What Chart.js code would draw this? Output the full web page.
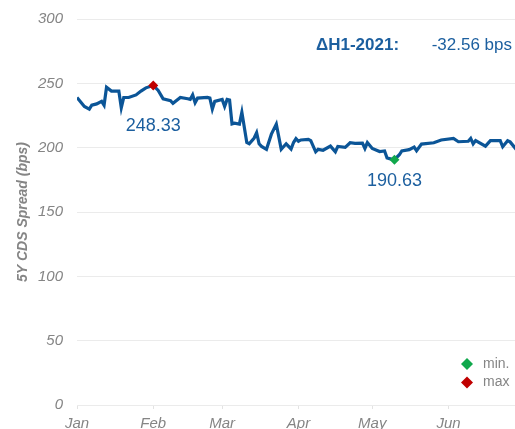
<!DOCTYPE html>
<html>
<head>
<meta charset="utf-8">
<script src="https://cdn.jsdelivr.net/npm/chart.js@4.4.1/dist/chart.umd.min.js"></script>
<style>
    body { margin: 0; background: #fff; }
    #wrap { width: 515px; height: 429px; overflow: hidden; }
</style>
</head>
<body>
<div id="wrap"><canvas id="cdsChart" width="515" height="429"></canvas></div>
<script>
// 5Y CDS spread, H1 2021 (bps)
var dates = [
    '2021-01-01', '2021-01-04', '2021-01-06', '2021-01-07', '2021-01-09', '2021-01-11', '2021-01-12', '2021-01-13',
    '2021-01-15', '2021-01-18', '2021-01-19', '2021-01-20', '2021-01-22', '2021-01-25', '2021-01-27', '2021-01-29',
    '2021-02-01', '2021-02-03', '2021-02-05', '2021-02-08', '2021-02-09', '2021-02-12', '2021-02-15', '2021-02-16',
    '2021-02-17', '2021-02-18', '2021-02-19', '2021-02-23', '2021-02-24', '2021-02-25', '2021-02-26',
    '2021-03-01', '2021-03-02', '2021-03-03', '2021-03-04', '2021-03-05', '2021-03-06', '2021-03-08', '2021-03-09',
    '2021-03-11', '2021-03-12', '2021-03-14', '2021-03-15', '2021-03-16', '2021-03-17', '2021-03-19', '2021-03-21',
    '2021-03-23', '2021-03-25', '2021-03-27', '2021-03-29', '2021-03-30', '2021-03-31',
    '2021-04-01', '2021-04-02', '2021-04-05', '2021-04-06', '2021-04-08', '2021-04-09', '2021-04-11', '2021-04-14',
    '2021-04-16', '2021-04-17', '2021-04-20', '2021-04-22', '2021-04-24', '2021-04-27', '2021-04-28', '2021-04-29',
    '2021-05-01', '2021-05-04', '2021-05-06', '2021-05-07', '2021-05-08', '2021-05-09', '2021-05-10', '2021-05-12',
    '2021-05-13', '2021-05-16', '2021-05-18', '2021-05-19', '2021-05-21', '2021-05-26', '2021-05-29',
    '2021-06-03', '2021-06-05', '2021-06-09', '2021-06-10', '2021-06-11', '2021-06-12', '2021-06-16', '2021-06-18',
    '2021-06-22', '2021-06-23', '2021-06-25', '2021-06-26', '2021-06-29'
];
var spreads = [
    239, 232, 230, 233, 234, 236, 233, 247,
    244, 244, 231, 239, 239, 241, 244, 246.5,
    248.33, 244.5, 238, 236.5, 234.5, 239, 238, 237.5,
    241, 235, 238.5, 239, 238.5, 230, 236,
    237.5, 232, 237.5, 237, 218.5, 219, 218.3, 227.5,
    204, 203, 207.5, 211.6, 203, 201, 198.7, 210.5,
    218.3, 198.7, 203, 199, 204, 207,
    205, 206, 206.5, 205.5, 196.8, 198.7, 198, 201.2,
    196.8, 201, 200.2, 203.8, 203.3, 203.5, 199.4, 204,
    199.4, 197, 197.5, 192, 191.5, 191, 190.63, 194.5,
    197.5, 198.5, 200.5, 197.6, 202.8, 203.8, 206,
    207.2, 204.6, 205, 207.2, 203, 205.5, 201.2, 205.4,
    205.4, 200.7, 205.4, 204.5, 197.5
];
var monthStarts = ['2021-01-01', '2021-02-01', '2021-03-01', '2021-04-01', '2021-05-01', '2021-06-01'];
var monthLabels = ['Jan', 'Feb', 'Mar', 'Apr', 'May', 'Jun'];
var xStart = '2021-01-01', xEnd = '2021-06-28';
var yMin = 0, yMax = 300, yStep = 50;
var deltaTitle = '\u0394H1-2021:';
var deltaText = '-32.56 bps';
var legendLabels = ['min.', 'max'];

var lineColor = '#0b5597';
var textBlue = '#1c5f9f';
var minColor = '#10a84c';
var maxColor = '#c00000';
var grey = '#858585';
var fontFamily = "'Liberation Sans', Arial, sans-serif";

function dayIndex(d) {
    return (Date.parse(d) - Date.parse(xStart)) / 86400000;
}

var points = dates.map(function (d, i) { return { x: dayIndex(d), y: spreads[i] }; });
var tickDays = monthStarts.map(dayIndex);

var iMax = spreads.indexOf(Math.max.apply(null, spreads));
var iMin = spreads.indexOf(Math.min.apply(null, spreads));

// labels, delta note and small legend drawn on top
var overlayPlugin = {
    id: 'overlay',
    afterDatasetsDraw: function (chart) {
        var ctx = chart.ctx;
        var pMax = chart.getDatasetMeta(0).data[0];
        var pMin = chart.getDatasetMeta(1).data[0];
        ctx.save();
        ctx.textAlign = 'center';
        ctx.textBaseline = 'middle';
        ctx.fillStyle = textBlue;
        ctx.font = '18px ' + fontFamily;
        ctx.fillText(spreads[iMax].toFixed(2), pMax.x, pMax.y + 41);
        ctx.fillText(spreads[iMin].toFixed(2), pMin.x, pMin.y + 21);

        // delta note
        ctx.textAlign = 'left';
        ctx.font = 'bold 17px ' + fontFamily;
        ctx.fillText(deltaTitle, 316, 45);
        ctx.textAlign = 'right';
        ctx.font = '17px ' + fontFamily;
        ctx.fillText(deltaText, 512, 45);

        // legend
        var colors = [minColor, maxColor];
        ctx.textAlign = 'left';
        ctx.font = '14px ' + fontFamily;
        for (var i = 0; i < legendLabels.length; i++) {
            var ly = 364 + i * 18.5;
            ctx.fillStyle = colors[i];
            ctx.beginPath();
            ctx.moveTo(467, ly - 6);
            ctx.lineTo(473, ly);
            ctx.lineTo(467, ly + 6);
            ctx.lineTo(461, ly);
            ctx.closePath();
            ctx.fill();
            ctx.fillStyle = grey;
            ctx.fillText(legendLabels[i], 483, ly);
        }
        ctx.restore();
    }
};

new Chart(document.getElementById('cdsChart'), {
    type: 'line',
    data: {
        datasets: [{
            label: 'max',
            data: [points[iMax]],
            showLine: false,
            pointStyle: 'rectRot',
            pointRadius: 5,
            pointBackgroundColor: maxColor,
            pointBorderColor: maxColor,
            pointBorderWidth: 0
        }, {
            label: 'min.',
            data: [points[iMin]],
            showLine: false,
            pointStyle: 'rectRot',
            pointRadius: 5,
            pointBackgroundColor: minColor,
            pointBorderColor: minColor,
            pointBorderWidth: 0
        }, {
            label: '5Y CDS',
            data: points,
            borderColor: lineColor,
            borderWidth: 3.2,
            pointRadius: 0,
            tension: 0,
            fill: false
        }]
    },
    options: {
        responsive: false,
        animation: false,
        layout: { autoPadding: false, padding: { top: 19, right: 0, bottom: 0, left: 0 } },
        plugins: {
            legend: { display: false },
            tooltip: { enabled: false }
        },
        scales: {
            x: {
                type: 'linear',
                min: 0,
                max: dayIndex(xEnd),
                afterBuildTicks: function (axis) {
                    axis.ticks = tickDays.map(function (v) { return { value: v }; });
                },
                afterFit: function (axis) {
                    axis.height = 24;
                    axis.paddingRight = 0;
                },
                ticks: {
                    autoSkip: false,
                    maxRotation: 0,
                    padding: 6,
                    color: grey,
                    font: { family: fontFamily, size: 15, style: 'italic' },
                    callback: function (value) {
                        return monthLabels[tickDays.indexOf(value)];
                    }
                },
                grid: {
                    drawOnChartArea: false,
                    drawTicks: true,
                    tickLength: 4,
                    color: '#e3e3e3'
                },
                border: { display: false }
            },
            y: {
                min: yMin,
                max: yMax,
                afterFit: function (axis) {
                    axis.width = 77;
                    axis.paddingTop = 0;
                    axis.paddingBottom = 0;
                },
                ticks: {
                    stepSize: yStep,
                    padding: 14,
                    color: grey,
                    font: { family: fontFamily, size: 15, style: 'italic' }
                },
                grid: {
                    color: '#ebebeb',
                    drawTicks: false
                },
                border: { display: false },
                title: {
                    display: true,
                    text: '5Y CDS Spread (bps)',
                    color: grey,
                    padding: { top: 15, bottom: 0 },
                    font: { family: fontFamily, size: 14, style: 'italic', weight: 'bold' }
                }
            }
        }
    },
    plugins: [overlayPlugin]
});
</script>
</body>
</html>
